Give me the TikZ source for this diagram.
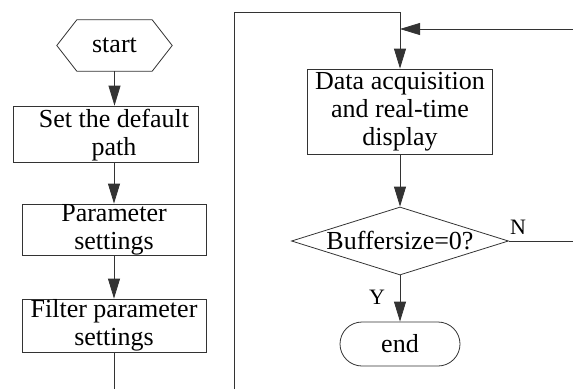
\documentclass[tikz,border=0pt]{standalone}
\usepackage{fontspec}
\setmainfont{Liberation Serif}
\usetikzlibrary{arrows.meta,shapes.geometric,shapes.misc,calc}
\begin{document}
\begin{tikzpicture}[x=1pt,y=-1pt,
  every node/.style={font=\fontsize{26}{28}\selectfont, align=center},
  boxs/.style={draw=black!80, line width=0.8pt, inner sep=0pt},
  conn/.style={draw=black!80, line width=0.8pt},
  arr/.style={conn, -{Triangle[length=20pt,width=12pt]}},
  lbl/.style={font=\fontsize{22}{24}\selectfont, inner sep=0pt}]
\useasboundingbox (0,0) rectangle (573,389);
% left column
\node[inner sep=0pt, minimum width=75pt, minimum height=51pt] (start) at (114.5,45.5) {start};
\draw[conn] (start.north west) -- (start.north east) -- ($(start.east)+(20,0)$) -- (start.south east) -- (start.south west) -- ($(start.west)+(-20,0)$) -- cycle;
\node[boxs, minimum width=185pt, minimum height=56pt] (b1) at (105.5,134) {};
\node[inner sep=0pt] (b1t) at (114,135) {Set the default\\path};
\node[boxs, minimum width=184pt, minimum height=51pt] (b2) at (114,229.5) {Parameter\\settings};
\node[boxs, minimum width=184pt, minimum height=53pt] (b3) at (114,325.5) {Filter parameter\\settings};
\coordinate (b3out) at (114,389);
\draw[arr] (start.south) -- (start.south |- b1.north);
\draw[arr] (b2.north |- b1.south) -- (b2.north);
\draw[arr] (b2.south) -- (b3.north);
\draw[conn] (b3.south) -- (b3out);
% right column
\coordinate (lb) at (234,389);
\coordinate (lt) at (234,12);
\coordinate (rt) at (400,12);
\node[boxs, minimum width=185pt, minimum height=85pt] (data) at (400,111.5) {Data acquisition\\and real-time\\display};
\draw[arr] (lb) -- (lt) -- (rt) -- (data.north);
\coordinate (fb) at (573,29);
\coordinate (fj) at (400,29);
\draw[arr] (fb) -- (fj);
\node[diamond, draw=black!80, line width=0.8pt, minimum width=217pt, minimum height=68pt, inner sep=0pt] (dec) at (400,241) {};
\node (dect) at (dec) {Buffersize=0?};
\draw[arr] (data.south) -- (dec.north);
\node[rounded rectangle, boxs, minimum width=120pt, minimum height=44pt] (end) at (400,344) {end};
\draw[arr] (dec.south) -- (end.north);
\coordinate (nout) at (573,241);
\draw[conn] (dec.east) -- (nout);
\node[lbl] (N) at (518,227) {N};
\node[lbl] (Y) at (377,297) {Y};
\end{tikzpicture}
\end{document}
